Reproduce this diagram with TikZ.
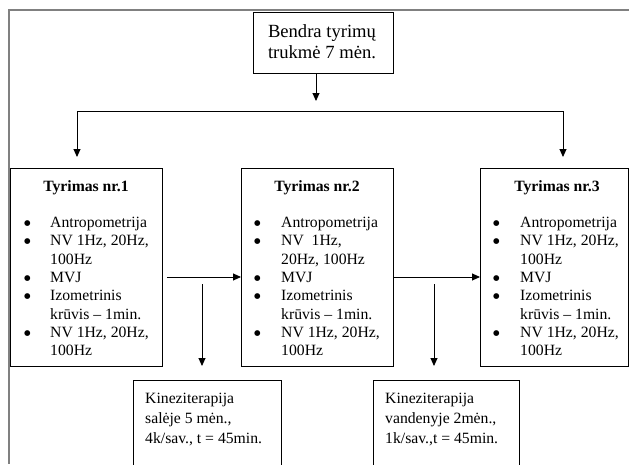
\documentclass[tikz,border=0pt]{standalone}
\usepackage{fontspec}
\setmainfont{Liberation Serif}
\newfontfamily\symfont{DejaVu Sans}
\usetikzlibrary{arrows.meta}
\newcommand{\bigbul}{\raisebox{2pt}{\symfont\fontsize{7.5}{8}\selectfont ●}}
\begin{document}
\begin{tikzpicture}[x=1pt,y=-1pt,
  box/.style={draw=black, line width=0.9pt, anchor=north west, inner sep=0pt},
  arr/.style={line width=0.9pt, -{Triangle[length=8pt,width=7pt]}},
  frame/.style={draw=gray, line width=1.1pt},
  lbl/.style={inner sep=0pt, anchor=base west, font=\fontsize{15.7}{18.3}\selectfont},
  ttl/.style={inner sep=0pt, anchor=base, font=\bfseries\fontsize{15.7}{18.3}\selectfont},
  kin/.style={inner sep=0pt, anchor=base west, font=\fontsize{15.7}{20}\selectfont},
  toptext/.style={inner sep=0pt, anchor=base, font=\fontsize{18.6}{21}\selectfont}]
\useasboundingbox (0,0) rectangle (629,464);
\clip (0,0) rectangle (629,464);

% outer frame (cut by the page)
\draw[frame] (629,10) -- (9,10) -- (9,464);

% top box
\node[box, minimum width=140pt, minimum height=61pt] (t0) at (253,12) {};
\node[toptext] (tt) at (322,37) {\begin{tabular}[t]{@{}c@{}}
Bendra tyrimų\\ trukmė 7 mėn.
\end{tabular}};

% three study boxes
\node[box, minimum width=152pt, minimum height=198pt] (t1) at (10,168) {};
\node[box, minimum width=152pt, minimum height=198pt] (t2) at (241,168) {};
\node[box, minimum width=148pt, minimum height=198pt] (t3) at (480,168) {};

% bottom boxes (cut by the page)
\node[box, minimum width=148pt, minimum height=100pt] (k1) at (133,380) {};
\node[box, minimum width=146pt, minimum height=100pt] (k2) at (373,380) {};

% titles
\node[ttl] (h1) at (86,191) {Tyrimas nr.1};
\node[ttl] (h2) at (317,191) {Tyrimas nr.2};
\node[ttl] (h3) at (557,191) {Tyrimas nr.3};

% bullet lists
\node[lbl] (l1) at (24,227.6) {\begin{tabular}[t]{@{}p{26pt}@{}l@{}}
\bigbul & Antropometrija\\
\bigbul & NV 1Hz, 20Hz,\\
 & 100Hz\\
\bigbul & MVJ\\
\bigbul & Izometrinis\\
 & krūvis – 1min.\\
\bigbul & NV 1Hz, 20Hz,\\
 & 100Hz
\end{tabular}};
\node[lbl] (l2) at (254,227.6) {\begin{tabular}[t]{@{}p{27pt}@{}l@{}}
\bigbul & Antropometrija\\
\bigbul & NV\ \ 1Hz,\\
 & 20Hz, 100Hz\\
\bigbul & MVJ\\
\bigbul & Izometrinis\\
 & krūvis – 1min.\\
\bigbul & NV 1Hz, 20Hz,\\
 & 100Hz
\end{tabular}};
\node[lbl] (l3) at (493,227.6) {\begin{tabular}[t]{@{}p{27pt}@{}l@{}}
\bigbul & Antropometrija\\
\bigbul & NV 1Hz, 20Hz,\\
 & 100Hz\\
\bigbul & MVJ\\
\bigbul & Izometrinis\\
 & krūvis – 1min.\\
\bigbul & NV 1Hz, 20Hz,\\
 & 100Hz
\end{tabular}};

% bottom texts
\node[kin] (kt1) at (145,403) {\begin{tabular}[t]{@{}l@{}}
Kineziterapija\\ salėje 5 mėn.,\\ 4k/sav., t = 45min.
\end{tabular}};
\node[kin] (kt2) at (385,403) {\begin{tabular}[t]{@{}l@{}}
Kineziterapija\\ vandenyje 2mėn.,\\ 1k/sav.,t = 45min.
\end{tabular}};

% connector points
\coordinate (j0) at (316,101);
\coordinate (hl) at (77,111);
\coordinate (hr) at (563,111);
\coordinate (a1) at (77,157);
\coordinate (a3) at (563,157);
\coordinate (m) at (0,277);
\coordinate (d1s) at (202,284);
\coordinate (d1e) at (202,366);
\coordinate (d2s) at (434,284);
\coordinate (d2e) at (434,366);

% connectors
\draw[arr] (t0.south -| j0) -- (j0);
\draw[line width=0.9pt, {Triangle[length=8pt,width=7pt]}-{Triangle[length=8pt,width=7pt]}]
  (a1) -- (hl) -- (hr) -- (a3);
\draw[arr] ([xshift=4pt]t1.east |- m) -- (t2.west |- m);
\draw[arr] (t2.east |- m) -- (t3.west |- m);
\draw[arr] (d1s) -- (d1e);
\draw[arr] (d2s) -- (d2e);
\end{tikzpicture}
\end{document}
